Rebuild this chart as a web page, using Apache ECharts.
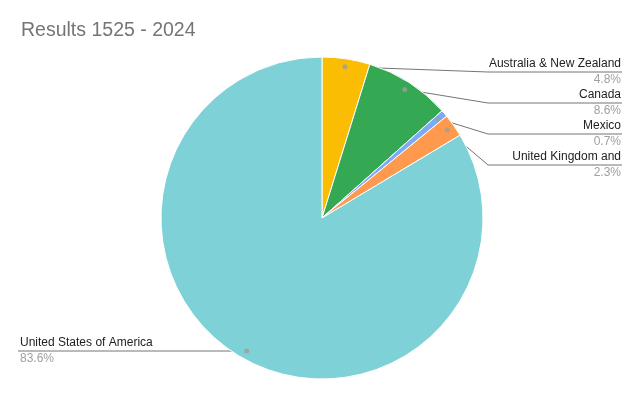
<!DOCTYPE html>
<html><head><meta charset="utf-8">
<script src="https://cdn.jsdelivr.net/npm/echarts@6/dist/echarts.min.js"></script>
<style>html,body{margin:0;padding:0;background:#fff}#c{width:644px;height:399px}</style>
</head><body><div id="c"></div>
<script>
const categories = ['Australia & New Zealand', 'Canada', 'Mexico', 'United Kingdom and', 'United States of America'];
const values = [4.8, 8.6, 0.7, 2.3, 83.6];
const colors = ['#FBBC04', '#34A853', '#7BAAF7', '#FF994D', '#7ED1D7'];

// layout constants
const CX = 322, CY = 218, R = 161, DOT = 0.95;
const labelLineY = [72, 103, 134, 165, 351];
const total = values.reduce((a, b) => a + b, 0);
const mids = [];
let cum = 0;
values.forEach(v => { mids.push((cum + v / 2) / total * 100); cum += v; });
function dotPos(i) {
  const a = mids[i] / 100 * Math.PI * 2;
  return [CX + DOT * R * Math.sin(a), CY - DOT * R * Math.cos(a)];
}

const chart = echarts.init(document.getElementById('c'), null, {renderer: 'canvas'});
chart.setOption({
  backgroundColor: '#fff',
  animation: false,
  title: {
    text: 'Results 1525 - 2024', left: 21, top: 21, padding: 0,
    textStyle: {fontFamily: 'Liberation Sans, Arial', fontSize: 19.5, fontWeight: 'normal', color: '#757575'}
  },
  polar: {center: [CX, CY], radius: R},
  angleAxis: {type: 'value', min: 0, max: 100, startAngle: 90, show: false},
  radiusAxis: {type: 'value', min: 0, max: 1, show: false},
  series: [{
    type: 'pie',
    center: [CX, CY],
    radius: R,
    startAngle: 90,
    clockwise: true,
    data: categories.map((c, i) => ({name: c, value: values[i], itemStyle: {color: colors[i]}})),
    itemStyle: {borderColor: '#fff', borderWidth: 1},
    emphasis: {disabled: true},
    label: {
      show: true,
      position: 'outside',
      alignTo: 'edge',
      edgeDistance: 20,
      formatter: p => '{n|' + p.name + '}\n{v|' + p.value.toFixed(1) + '%}',
      rich: {
        n: {fontFamily: 'Liberation Sans, Arial', fontSize: 12, color: '#222222', lineHeight: 16},
        v: {fontFamily: 'Liberation Sans, Arial', fontSize: 12, color: '#A0A0A0', lineHeight: 16}
      }
    },
    labelLine: {show: true, length: 10, length2: 10, lineStyle: {color: '#757575', width: 1}},
    labelLayout: function (params) {
      const i = params.dataIndex;
      const y = labelLineY[i];
      const d = dotPos(i);
      if (i === 4) {
        return {x: 20, y: y, labelLinePoints: [d, [d[0] - 5, y], [18, y]]};
      }
      return {x: 621, y: y, labelLinePoints: [d, [488, y], [622, y]]};
    }
  }, {
    type: 'scatter',
    coordinateSystem: 'polar',
    symbolSize: 5,
    silent: true,
    z: 5,
    itemStyle: {color: '#9E9E9E'},
    data: mids.map(m => [DOT, m])
  }]
});
</script>
</body></html>
